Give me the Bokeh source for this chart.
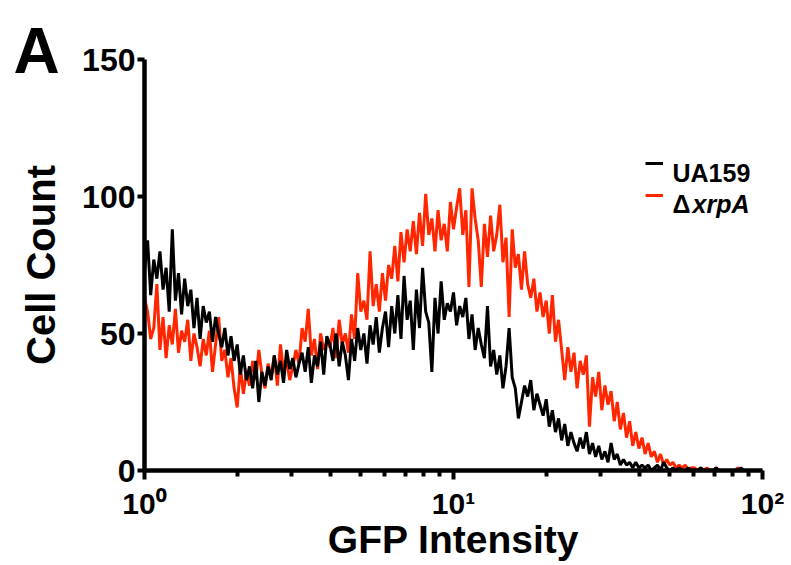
import numpy as np
from bokeh.plotting import figure
from bokeh.models import Range1d, FixedTicker, Label, Legend, LegendItem
from bokeh.embed import file_html
from bokeh.resources import INLINE

# ---- data -------------------------------------------------------------
# log-spaced GFP channels from 10^0 to 10^2 (100 channels per decade)
channel_index = np.arange(201)
gfp_intensity = 10 ** (channel_index / 100)

ua159_counts = [
    73, 84, 64, 77, 70, 80, 66, 74, 58, 88,
    62, 72, 57, 70, 60, 66, 52, 63, 48, 60,
    54, 58, 47, 56, 50, 45, 52, 42, 49, 40,
    46, 35, 42, 33, 38, 30, 40, 25, 36, 31,
    38, 33, 42, 35, 40, 32, 44, 37, 41, 34,
    39, 43, 36, 45, 32, 42, 38, 47, 35, 49,
    46, 40, 50, 38, 47, 42, 33, 48, 40, 52,
    44, 50, 39, 53, 46, 56, 43, 52, 58, 45,
    60, 50, 64, 48, 71, 55, 62, 44, 66, 52,
    74, 58, 54, 36, 63, 50, 69, 55, 61, 58,
    65, 53, 60, 56, 63, 48, 57, 44, 52, 46,
    41, 60, 38, 44, 35, 42, 30, 38, 52, 34,
    30, 19, 25, 31, 27, 33, 22, 28, 24, 20,
    26, 16, 22, 14, 19, 11, 17, 9, 14, 10,
    7, 12, 8, 14, 6, 10, 5, 9, 4, 7,
    3, 10, 4, 6, 2, 4, 2, 3, 1, 3,
    1, 2, 1, 2, 0, 1, 2, 0, 3, 1,
    0, 1, 0, 1, 0, 0, 1, 0, 0, 0,
    1, 0, 0, 0, 0, 1, 0, 0, 0, 0,
    0, 0, 0, 1, 0, 0, 0, 0, 0, 0, 0,
]

xrpa_counts = [
    63, 58, 48, 52, 68, 44, 56, 41, 53, 46,
    59, 43, 51, 47, 55, 40, 50, 45, 38, 48,
    42, 51, 36, 46, 56, 40, 44, 34, 41, 30,
    23, 38, 28, 36, 31, 40, 33, 44, 35, 30,
    39, 34, 42, 31, 46, 36, 40, 33, 38, 44,
    39, 52, 47, 59, 42, 48, 37, 50, 44, 47,
    45, 52, 41, 55, 46, 50, 43, 57, 48, 72,
    58, 62, 55, 80, 60, 68, 58, 72, 62, 75,
    70, 82, 69, 87, 76, 88, 80, 91, 79, 94,
    82, 101, 86, 92, 80, 95, 84, 90, 80, 98,
    88, 96, 103, 86, 95, 67, 103, 92, 84, 67,
    90, 78, 93, 80, 86, 97, 76, 85, 56, 88,
    74, 79, 66, 80, 68, 63, 70, 58, 65, 56,
    62, 50, 64, 47, 55, 44, 33, 45, 36, 43,
    30, 40, 35, 42, 16, 34, 27, 36, 22, 31,
    24, 29, 18, 25, 15, 21, 12, 18, 9, 14,
    8, 12, 6, 10, 5, 7, 3, 6, 2, 4,
    2, 3, 1, 2, 1, 2, 0, 1, 1, 0,
    1, 0, 1, 0, 0, 1, 0, 0, 0, 0,
    0, 0, 1, 0, 0, 0, 0, 0, 0, 0, 0,
]

x_tick_values = [1, 10, 100]
x_tick_labels = {1: "10\u2070", 10: "10\u00b9", 100: "10\u00b2"}
x_minor_ticks = [2, 3, 4, 5, 6, 7, 8, 9, 20, 30, 40, 50, 60, 70, 80, 90]
y_tick_values = [0, 50, 100, 150]

series_names = ["UA159", "\u0394", "xrpA"]

# ---- style ------------------------------------------------------------
FONT = "Liberation Sans"
RED = "#ff2600"
BLACK = "#000000"

p = figure(
    frame_width=618, frame_height=411,
    min_border_left=144, min_border_right=29,
    min_border_top=59, min_border_bottom=95,
    x_axis_type="log",
    x_range=Range1d(1, 100), y_range=Range1d(0, 150),
    output_backend="svg", toolbar_location=None,
    title="A",
)
p.outline_line_color = None
p.xgrid.visible = False
p.ygrid.visible = False
p.background_fill_color = "white"
p.border_fill_color = "white"

# panel letter as the plot title, pulled into the top-left margin
p.title.text_font = FONT
p.title.text_font_size = "64px"
p.title.text_font_style = "bold"
p.title.text_color = BLACK
p.title.align = "left"
p.title.vertical_align = "bottom"
p.title.offset = -131
p.title.standoff = -54

# lines (red first, black on top)
r_red = p.line(gfp_intensity, xrpa_counts, line_color=RED, line_width=3)
r_black = p.line(gfp_intensity, ua159_counts, line_color=BLACK, line_width=3)

# axes
for ax in (p.xaxis[0], p.yaxis[0]):
    ax.axis_line_width = 4.5
    ax.axis_line_color = BLACK
    ax.major_tick_line_width = 4
    ax.minor_tick_line_width = 4
    ax.major_tick_in = 0
    ax.minor_tick_in = 0
    ax.major_label_text_font = FONT
    ax.major_label_text_font_style = "bold"
    ax.major_label_text_color = BLACK
    ax.axis_label_text_font = FONT
    ax.axis_label_text_font_style = "bold"
    ax.axis_label_text_color = BLACK

p.xaxis.ticker = FixedTicker(ticks=x_tick_values, minor_ticks=x_minor_ticks)
p.xaxis.major_label_overrides = x_tick_labels
p.xaxis.major_tick_out = 9
p.xaxis.minor_tick_out = 6
p.xaxis.major_label_text_font_size = "30px"
p.xaxis.major_label_standoff = 7
p.xaxis.axis_label = "GFP Intensity"
p.xaxis.axis_label_text_font_size = "39px"
p.xaxis.axis_label_standoff = -5

p.yaxis.ticker = FixedTicker(ticks=y_tick_values, minor_ticks=[])
p.yaxis.major_tick_out = 7
p.yaxis.minor_tick_out = 0
p.yaxis.major_label_text_font_size = "32px"
p.yaxis.major_label_standoff = 2
p.yaxis.axis_label = "Cell Count"
p.yaxis.axis_label_text_font_size = "40px"
p.yaxis.axis_label_standoff = 16

# legend glyphs (texts drawn as labels to allow italic gene name)
legend = Legend(
    items=[LegendItem(label=" ", renderers=[r_black]),
           LegendItem(label=" ", renderers=[r_red])],
    location=(501, 259), orientation="vertical",
    glyph_width=18, glyph_height=32, label_width=0, label_height=0,
    label_standoff=0, spacing=0, padding=0, margin=0,
    border_line_color=None, background_fill_alpha=0,
    label_text_font_size="1px",
)
p.add_layout(legend, "center")

common = dict(text_font=FONT, text_color=BLACK, text_baseline="alphabetic")
p.add_layout(Label(x=100, y=150, x_offset=-90, y_offset=-113, text=series_names[0],
                   text_font_size="25px", text_font_style="bold", **common))
p.add_layout(Label(x=100, y=150, x_offset=-90, y_offset=-144, text=series_names[1],
                   text_font_size="25px", text_font_style="bold", **common))
p.add_layout(Label(x=100, y=150, x_offset=-70, y_offset=-144, text=series_names[2],
                   text_font_size="25px", text_font_style="bold italic", **common))

open("out.html", "w").write(file_html(p, INLINE))
